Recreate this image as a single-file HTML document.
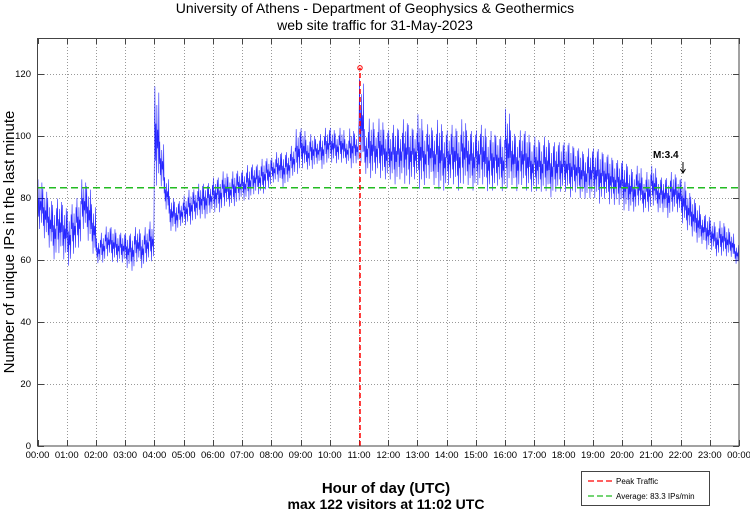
<!DOCTYPE html>
<html><head><meta charset="utf-8">
<style>
body{margin:0;background:#fff;font-family:"Liberation Sans",sans-serif;}
svg text{font-family:"Liberation Sans",sans-serif;}
</style></head>
<body>
<svg id="c" width="750" height="511" xmlns="http://www.w3.org/2000/svg">
<text x="375" y="13" text-anchor="middle" font-size="14">University of Athens - Department of Geophysics &amp; Geothermics</text>
<text x="375" y="30" text-anchor="middle" font-size="14">web site traffic for 31-May-2023</text>
<text transform="translate(14,242) rotate(-90)" text-anchor="middle" font-size="15">Number of unique IPs in the last minute</text>
<text x="386" y="493" text-anchor="middle" font-size="15" font-weight="bold">Hour of day (UTC)</text>
<text x="386" y="509" text-anchor="middle" font-size="14" font-weight="bold">max 122 visitors at 11:02 UTC</text>
<g id="grid"></g>
<g id="series"></g>
<g id="overlay"></g>
<rect x="37.5" y="38.5" width="701.5" height="407.5" fill="none" stroke="#444" stroke-width="1"/>
<g>
<rect x="581.5" y="471.5" width="128" height="34" fill="#fff" stroke="#444"/>
<line x1="588" y1="481" x2="612" y2="481" stroke="#f00" stroke-dasharray="6,3" stroke-width="1.3"/>
<text x="616" y="484" font-size="8">Peak Traffic</text>
<line x1="588" y1="496" x2="612" y2="496" stroke="#2b2" stroke-dasharray="6,3" stroke-width="1.3"/>
<text x="616" y="499" font-size="8">Average: 83.3 IPs/min</text>
</g>
</svg>
<script>
const hourLabels=["00:00","01:00","02:00","03:00","04:00","05:00","06:00","07:00","08:00","09:00","10:00","11:00","12:00","13:00","14:00","15:00","16:00","17:00","18:00","19:00","20:00","21:00","22:00","23:00","00:00"];
const yTicks=[0,20,40,60,80,100,120];
const binLow=[68,65,62,58,60,58, 56,60,62,68,64,60, 58,58,60,58,58,58, 56,55,58,56,58,58, 80,82,75,68,68,70, 70,70,72,72,72,74, 74,74,76,76,76,78, 78,78,80,80,80,82, 84,84,82,84,86,86, 88,88,88,90,88,90, 90,90,90,90,88,90, 88,86,84,86,84,84, 84,82,84,82,82,84, 80,82,84,82,80,80, 82,82,80,82,82,80, 82,82,80,80,82,80, 80,82,80,82,80,80, 80,80,80,78,80,80, 80,78,80,78,78,78, 78,76,78,76,76,76, 74,74,74,76,74,74, 76,74,74,72,74,74, 70,68,66,64,64,62, 62,60,60,60,60,58];
const binHigh=[88,85,82,80,82,80, 78,80,82,88,86,80, 68,70,72,72,70,70, 70,70,72,70,72,74, 120,100,88,82,80,80, 82,84,84,86,86,86, 88,88,90,88,90,90, 90,92,92,92,94,94, 94,96,96,96,98,104, 104,100,102,100,102,104, 104,102,104,100,104,102, 122,104,108,104,108,104, 104,106,104,108,106,104, 110,104,106,104,108,104, 104,106,104,108,104,104, 104,106,102,104,102,102, 112,104,102,104,104,100, 102,100,102,100,100,100, 100,100,98,98,96,98, 98,98,96,96,94,94, 94,92,90,92,88,90, 92,88,88,88,90,88, 88,84,82,80,76,76, 74,72,74,72,70,66];
const avgValue=83.3;
const peakValue=122;
const peakMinute=662;
const quakeMinute=1325;
const quakeLabel="M:3.4";

const X0=37.5,X1=739,YB=446,PXU=3.1;
const xs=m=>X0+(X1-X0)*m/1440;
const ys=v=>YB-v*PXU;
const NS="http://www.w3.org/2000/svg";
function mk(tag,attrs,parent){const e=document.createElementNS(NS,tag);for(const k in attrs)e.setAttribute(k,attrs[k]);parent.appendChild(e);return e;}
const grid=document.getElementById('grid'),series=document.getElementById('series'),ov=document.getElementById('overlay');
hourLabels.forEach((h,i)=>{
  const x=Math.round(xs(i*60))+0.5;
  if(i>0&&i<24){const l=mk('line',{x1:x,y1:38,x2:x,y2:446,stroke:'#999','stroke-dasharray':'1,2'},grid);
  
  }
  const t1=mk('line',{x1:x,y1:446,x2:x,y2:440,stroke:'#444'},grid);
  
  
  const t2=mk('line',{x1:x,y1:38,x2:x,y2:44,stroke:'#444'},grid);
  
  
  const tx=mk('text',{x:xs(i*60),y:458,'text-anchor':'middle','font-size':'9.5'},grid);tx.textContent=h;
  
  
});
yTicks.forEach(v=>{
  const y=Math.round(ys(v))+0.5;
  if(v>0){const l=mk('line',{x1:38,y1:y,x2:739,y2:y,stroke:'#999','stroke-dasharray':'1,2'},grid);
  
  }
  const t=mk('line',{x1:38,y1:y,x2:44,y2:y,stroke:'#444'},grid);
  
  
  const t2=mk('line',{x1:733,y1:y,x2:739,y2:y,stroke:'#444'},grid);
  
  
  const tx=mk('text',{x:31,y:ys(v)+3,'text-anchor':'end','font-size':'9.5'},grid);tx.textContent=v;
  
  
});
const pattern=[0.5,0.9,0.3,0.6,0.1,0.75,0.4,0.55,0.2,0.85];
let d='';
binLow.forEach((lo,b)=>{
  const hi=binHigh[b];
  pattern.forEach((f,k)=>{
    const m=b*10+k;
    const v=lo+(hi-lo)*f;
    d+=(d?'L':'M')+xs(m).toFixed(2)+','+ys(v).toFixed(2);
  });
});
const p=mk('path',{d:d,fill:'none',stroke:'#0000ff','stroke-width':'0.6','stroke-opacity':'0.85'},series);


const av=mk('line',{x1:38,y1:ys(avgValue),x2:739,y2:ys(avgValue),stroke:'#22bb22','stroke-width':'1.5','stroke-dasharray':'7,4'},ov);


const pk=mk('line',{x1:xs(peakMinute),y1:446,x2:xs(peakMinute),y2:ys(peakValue),stroke:'#f00','stroke-width':'1.5','stroke-dasharray':'5,3'},ov);


const pc=mk('circle',{cx:xs(peakMinute),cy:ys(peakValue),r:2.2,fill:'none',stroke:'#f00','stroke-width':'1'},ov);


const qx=xs(quakeMinute);
const qt=mk('text',{x:qx-30,y:158,'font-size':'10','font-weight':'bold'},ov);qt.textContent=quakeLabel;


const qa=mk('path',{d:`M${qx},162L${qx},173M${qx-2.5},169L${qx},173L${qx+2.5},169`,fill:'none',stroke:'#000','stroke-width':'1'},ov);


</script>
</body></html>
